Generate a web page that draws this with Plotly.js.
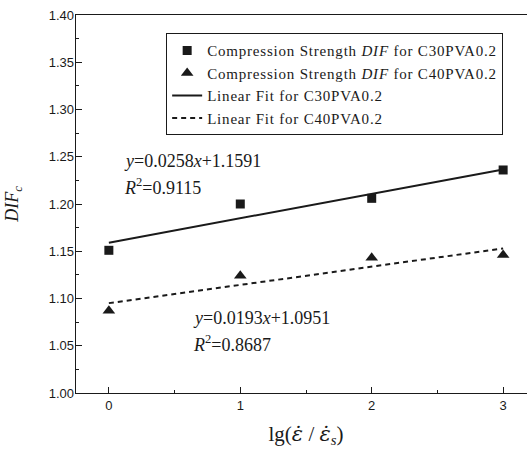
<!DOCTYPE html>
<html>
<head>
<meta charset="utf-8">
<script src="https://cdn.plot.ly/plotly-3.0.1.min.js"></script>
<style>
html,body{margin:0;padding:0;overflow:hidden;background:#fff;width:527px;height:458px;}
#chart{width:540px;height:458px;}
</style>
</head>
<body>
<div id="chart"></div>
<script>
const strainRateLog = [0, 1, 2, 3];
const difC30 = [1.151, 1.200, 1.206, 1.236];
const difC40 = [1.087, 1.124, 1.143, 1.146];
const fitX = [0, 3];
const fitC30 = [1.1591, 1.2365];
const fitC40 = [1.0951, 1.1530];
const seriesNames = [
  'Compression Strength <i>DIF</i> for C30PVA0.2',
  'Compression Strength <i>DIF</i> for C40PVA0.2',
  'Linear Fit for C30PVA0.2',
  'Linear Fit for C40PVA0.2'
];
const eqC30 = ['<i>y</i>=0.0258<i>x</i>+1.1591', '<i>R</i><sup>2</sup>=0.9115'];
const eqC40 = ['<i>y</i>=0.0193<i>x</i>+1.0951', '<i>R</i><sup>2</sup>=0.8687'];

const serif = 'Times New Roman, Liberation Serif, serif';
const sans = 'Arial, Liberation Sans, sans-serif';
const ink = '#1a1a1a';
const epsDot = '<span style="font-family:DejaVu Serif;font-style:italic">ε̇</span>';
const wide = s => '<span style="letter-spacing:0.8px">' + s + '</span>';

const traces = [
  {x: strainRateLog, y: difC30, type: 'scatter', mode: 'markers',
   name: wide(seriesNames[0]),
   marker: {symbol: 'square', size: 9, color: ink}},
  {x: strainRateLog, y: difC40, type: 'scatter', mode: 'markers',
   name: wide(seriesNames[1]),
   marker: {symbol: 'triangle-up', size: 11, color: ink}},
  {x: fitX, y: fitC30, type: 'scatter', mode: 'lines',
   name: wide(seriesNames[2]),
   line: {color: ink, width: 2}},
  {x: fitX, y: fitC40, type: 'scatter', mode: 'lines',
   name: wide(seriesNames[3]),
   line: {color: ink, width: 2, dash: '5px,4px'}}
];

const ann = (txt, x, y) => ({text: txt, x: x, y: y, xref: 'x', yref: 'y',
  xanchor: 'left', yanchor: 'middle', showarrow: false,
  font: {family: serif, size: 18, color: ink}});

const layout = {
  width: 540, height: 458,
  margin: {l: 76, r: 4, t: 15, b: 65},
  paper_bgcolor: '#fff', plot_bgcolor: '#fff',
  showlegend: true,
  legend: {x: 0.196, y: 0.952, xanchor: 'left', yanchor: 'top',
    bordercolor: ink, borderwidth: 1, bgcolor: '#fff',
    font: {family: serif, size: 15, color: ink}, tracegroupgap: 0},
  xaxis: {range: [-0.25, 3.25], tickvals: [0, 1, 2, 3],
    ticks: 'inside', ticklen: 6, tickwidth: 1, tickcolor: ink,
    minor: {dtick: 0.5, tick0: 0, ticks: 'inside', ticklen: 3, tickcolor: ink},
    showline: true, linecolor: ink, linewidth: 1.3, mirror: true,
    showgrid: false, zeroline: false,
    tickfont: {family: sans, size: 13, color: ink},
    title: {text: 'lg(' + epsDot + ' / ' + epsDot + '<sub><i>s</i></sub>)', standoff: 14,
      font: {family: serif, size: 21, color: ink}}},
  yaxis: {range: [1.00, 1.40], dtick: 0.05, tickformat: '.2f',
    ticks: 'inside', ticklen: 6, tickwidth: 1, tickcolor: ink,
    minor: {dtick: 0.025, tick0: 1.0, ticks: 'inside', ticklen: 3, tickcolor: ink},
    showline: true, linecolor: ink, linewidth: 1.3, mirror: true,
    showgrid: false, zeroline: false, ticklabelstandoff: -2,
    tickfont: {family: sans, size: 13, color: ink},
    title: {text: '<i>DIF</i><sub><i>c</i></sub>', standoff: 25,
      font: {family: serif, size: 18, color: ink}}},
  annotations: [
    ann(eqC30[0], 0.10, 1.2455), ann(eqC30[1], 0.10, 1.2190),
    ann(eqC40[0], 0.625, 1.0794), ann(eqC40[1], 0.625, 1.0529)
  ]
};

Plotly.newPlot('chart', traces, layout, {displayModeBar: false, staticPlot: true});
</script>
</body>
</html>
